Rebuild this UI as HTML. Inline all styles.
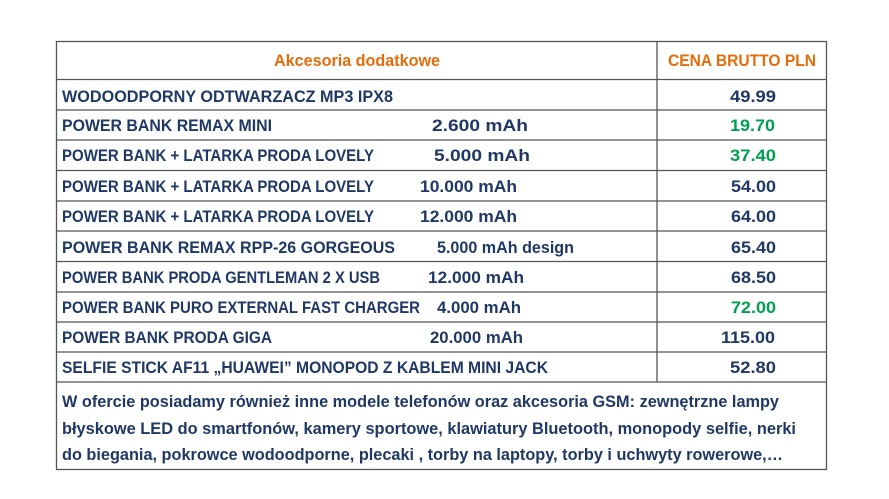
<!DOCTYPE html>
<html><head><meta charset="utf-8"><style>
html,body{margin:0;padding:0;background:#fff;width:889px;height:499px;overflow:hidden}
svg text{font-family:"Liberation Sans",sans-serif;font-weight:bold;font-size:16.5px;fill:#1f3864}
</style></head><body>
<svg width="889" height="499" viewBox="0 0 889 499">
<g stroke="#555" stroke-width="1.3" fill="none">
<rect x="56.5" y="41.5" width="770" height="428"/>
<line x1="657" y1="41" x2="657" y2="382"/>
<line x1="56" y1="79.5" x2="826" y2="79.5"/>
<line x1="56" y1="110" x2="826" y2="110"/>
<line x1="56" y1="140" x2="826" y2="140"/>
<line x1="56" y1="170.5" x2="826" y2="170.5"/>
<line x1="56" y1="201" x2="826" y2="201"/>
<line x1="56" y1="231" x2="826" y2="231"/>
<line x1="56" y1="261.5" x2="826" y2="261.5"/>
<line x1="56" y1="292" x2="826" y2="292"/>
<line x1="56" y1="322" x2="826" y2="322"/>
<line x1="56" y1="352" x2="826" y2="352"/>
<line x1="56" y1="382" x2="826" y2="382"/>
</g>
<g lengthAdjust="spacingAndGlyphs">
<text lengthAdjust="spacingAndGlyphs" x="274" y="66" textLength="166" style="fill:#e46c0a">Akcesoria dodatkowe</text>
<text lengthAdjust="spacingAndGlyphs" x="668" y="66" textLength="148" style="fill:#e46c0a">CENA BRUTTO  PLN</text>

<text lengthAdjust="spacingAndGlyphs" x="62" y="102" textLength="331">WODOODPORNY ODTWARZACZ  MP3  IPX8</text>
<text lengthAdjust="spacingAndGlyphs" x="62" y="131" textLength="210">POWER BANK REMAX MINI</text>
<text lengthAdjust="spacingAndGlyphs" x="62" y="161" textLength="312">POWER BANK + LATARKA PRODA LOVELY</text>
<text lengthAdjust="spacingAndGlyphs" x="62" y="192" textLength="312">POWER BANK + LATARKA PRODA LOVELY</text>
<text lengthAdjust="spacingAndGlyphs" x="62" y="222" textLength="312">POWER BANK + LATARKA PRODA LOVELY</text>
<text lengthAdjust="spacingAndGlyphs" x="62" y="253" textLength="333">POWER BANK REMAX RPP-26 GORGEOUS</text>
<text lengthAdjust="spacingAndGlyphs" x="62" y="283" textLength="318">POWER BANK PRODA GENTLEMAN 2 X USB</text>
<text lengthAdjust="spacingAndGlyphs" x="62" y="313" textLength="358">POWER BANK PURO EXTERNAL FAST CHARGER</text>
<text lengthAdjust="spacingAndGlyphs" x="62" y="343" textLength="210">POWER BANK PRODA GIGA</text>
<text lengthAdjust="spacingAndGlyphs" x="62" y="373" textLength="486">SELFIE STICK AF11 „HUAWEI”  MONOPOD Z KABLEM MINI JACK</text>

<text lengthAdjust="spacingAndGlyphs" x="432" y="131" textLength="96">2.600 mAh</text>
<text lengthAdjust="spacingAndGlyphs" x="434" y="161" textLength="96">5.000 mAh</text>
<text lengthAdjust="spacingAndGlyphs" x="420" y="192" textLength="97">10.000 mAh</text>
<text lengthAdjust="spacingAndGlyphs" x="420" y="222" textLength="97">12.000 mAh</text>
<text lengthAdjust="spacingAndGlyphs" x="437" y="253" textLength="137">5.000 mAh design</text>
<text lengthAdjust="spacingAndGlyphs" x="428" y="283" textLength="96">12.000 mAh</text>
<text lengthAdjust="spacingAndGlyphs" x="437" y="313" textLength="84">4.000 mAh</text>
<text lengthAdjust="spacingAndGlyphs" x="430" y="343" textLength="93">20.000 mAh</text>

<text lengthAdjust="spacingAndGlyphs" x="730" y="102" textLength="46">49.99</text>
<text lengthAdjust="spacingAndGlyphs" x="730" y="131" textLength="45" style="fill:#00a050">19.70</text>
<text lengthAdjust="spacingAndGlyphs" x="730" y="161" textLength="46" style="fill:#00a050">37.40</text>
<text lengthAdjust="spacingAndGlyphs" x="731" y="192" textLength="45">54.00</text>
<text lengthAdjust="spacingAndGlyphs" x="731" y="222" textLength="45">64.00</text>
<text lengthAdjust="spacingAndGlyphs" x="731" y="253" textLength="45">65.40</text>
<text lengthAdjust="spacingAndGlyphs" x="731" y="283" textLength="45">68.50</text>
<text lengthAdjust="spacingAndGlyphs" x="731" y="313" textLength="45" style="fill:#00a050">72.00</text>
<text lengthAdjust="spacingAndGlyphs" x="721" y="343" textLength="54">115.00</text>
<text lengthAdjust="spacingAndGlyphs" x="730" y="373" textLength="46">52.80</text>

<text lengthAdjust="spacingAndGlyphs" x="62" y="407" textLength="717">W ofercie posiadamy również inne modele telefonów oraz akcesoria GSM: zewnętrzne lampy</text>
<text lengthAdjust="spacingAndGlyphs" x="62" y="434" textLength="734">błyskowe LED do smartfonów, kamery sportowe, klawiatury Bluetooth,  monopody selfie, nerki</text>
<text lengthAdjust="spacingAndGlyphs" x="62" y="460" textLength="721">do biegania, pokrowce wodoodporne, plecaki , torby na laptopy, torby i uchwyty rowerowe,…</text>
</g>
</svg>
</body></html>
